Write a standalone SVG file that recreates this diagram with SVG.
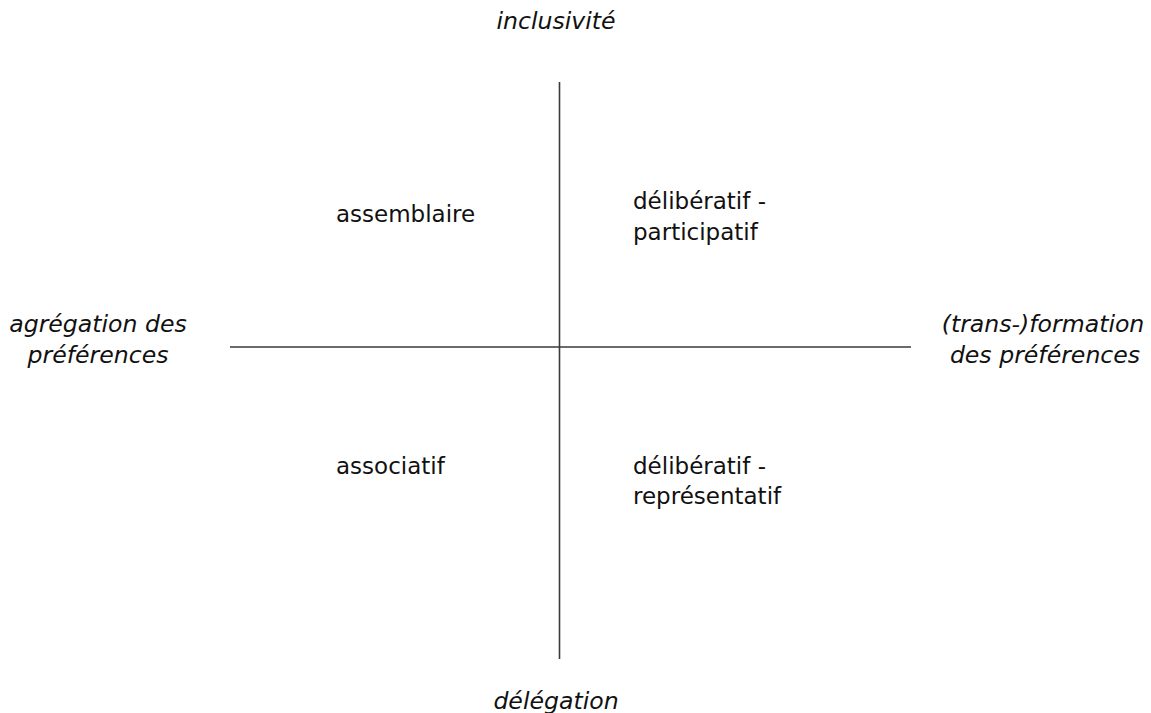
<svg xmlns="http://www.w3.org/2000/svg" width="1151" height="713" viewBox="0 0 1151 713">
<style>
.t{font-family:"DejaVu Sans",Verdana,sans-serif;font-size:23px;fill:#111}
.i{font-style:italic;font-size:23.6px}
.ax{stroke:#3a3a3a;stroke-width:1.6;fill:none}
</style>
<rect width="1151" height="713" fill="#fff"/>
<g id="connectors">
<line class="ax" x1="559.5" y1="82" x2="559.5" y2="659"/>
<line class="ax" x1="230" y1="347" x2="911" y2="347"/>
</g>
<g id="inclusivite"><text class="t i" x="556" y="29" text-anchor="middle">inclusivité</text></g>
<g id="delegation"><text class="t i" x="556" y="709" text-anchor="middle">délégation</text></g>
<g id="agregation"><text class="t i" text-anchor="middle"><tspan x="98" y="332">agrégation des</tspan><tspan x="98" y="363">préférences</tspan></text></g>
<g id="transformation"><text class="t i" text-anchor="middle"><tspan x="1043" y="332">(trans-)formation</tspan><tspan x="1045" y="363">des préférences</tspan></text></g>
<g id="assemblaire"><text class="t" x="336" y="222">assemblaire</text></g>
<g id="delib-participatif"><text class="t"><tspan x="633" y="209">délibératif -</tspan><tspan x="633" y="240">participatif</tspan></text></g>
<g id="associatif"><text class="t" x="336" y="474">associatif</text></g>
<g id="delib-representatif"><text class="t"><tspan x="633" y="474">délibératif -</tspan><tspan x="633" y="504">représentatif</tspan></text></g>
</svg>
